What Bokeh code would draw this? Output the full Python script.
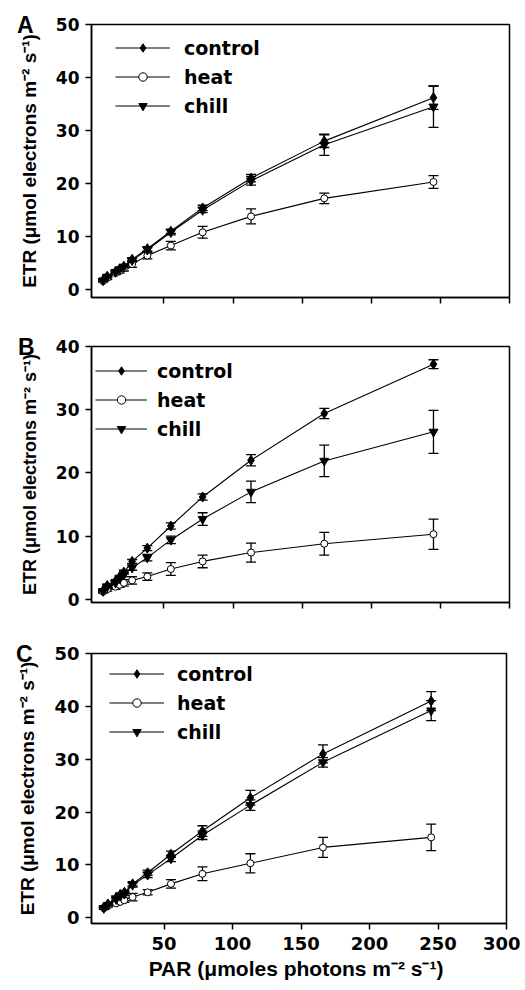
from bokeh.plotting import figure
from bokeh.models import (ColumnDataSource, Whisker, Legend, LegendItem, FixedTicker,
                          LinearAxis, Range1d, TeeHead)
from bokeh.layouts import column
from bokeh.embed import file_html
from bokeh.resources import INLINE

# ---------------- data ----------------
par = [6, 9, 15, 18, 21, 27, 38, 55, 78, 113, 166, 245]

a_control = [1.8, 2.5, 3.4, 3.9, 4.4, 5.7, 7.7, 11.0, 15.4, 21.0, 28.0, 36.2]
a_control_err = [0.2, 0.2, 0.2, 0.2, 0.3, 0.3, 0.4, 0.4, 0.5, 0.7, 1.2, 2.2]
a_heat = [1.6, 2.2, 3.1, 3.5, 4.0, 4.8, 6.4, 8.3, 10.8, 13.8, 17.2, 20.3]
a_heat_err = [0.2, 0.3, 0.3, 0.4, 0.5, 0.6, 0.6, 0.8, 1.1, 1.4, 1.0, 1.2]
a_chill = [1.7, 2.4, 3.3, 3.8, 4.3, 5.5, 7.5, 10.8, 15.0, 20.5, 27.3, 34.5]
a_chill_err = [0.2, 0.2, 0.2, 0.2, 0.3, 0.3, 0.4, 0.5, 0.5, 0.8, 2.0, 3.9]

b_control = [1.4, 2.2, 2.9, 3.6, 4.3, 6.0, 8.1, 11.6, 16.2, 22.0, 29.4, 37.2]
b_control_err = [0.2, 0.2, 0.2, 0.2, 0.3, 0.3, 0.4, 0.5, 0.5, 0.9, 0.8, 0.7]
b_heat = [1.2, 1.6, 2.0, 2.3, 2.6, 3.0, 3.6, 4.8, 6.0, 7.4, 8.8, 10.3]
b_heat_err = [0.2, 0.3, 0.4, 0.4, 0.5, 0.6, 0.6, 1.0, 1.0, 1.5, 1.8, 2.4]
b_chill = [1.3, 2.0, 2.6, 3.3, 3.9, 5.0, 6.6, 9.4, 12.7, 17.0, 21.9, 26.5]
b_chill_err = [0.2, 0.2, 0.3, 0.3, 0.3, 0.4, 0.5, 0.6, 1.0, 1.7, 2.5, 3.4]

c_control = [2.0, 2.6, 3.8, 4.4, 4.8, 6.4, 8.5, 12.0, 16.4, 22.7, 31.0, 41.0]
c_control_err = [0.2, 0.2, 0.3, 0.3, 0.3, 0.4, 0.5, 0.6, 1.0, 1.4, 1.7, 1.8]
c_heat = [1.8, 2.2, 2.7, 3.0, 3.3, 3.9, 4.8, 6.4, 8.3, 10.3, 13.3, 15.2]
c_heat_err = [0.2, 0.2, 0.3, 0.3, 0.4, 0.7, 0.5, 0.8, 1.3, 1.8, 1.9, 2.5]
c_chill = [1.8, 2.4, 3.5, 4.1, 4.5, 6.2, 8.1, 11.2, 15.6, 21.3, 29.4, 39.2]
c_chill_err = [0.2, 0.2, 0.3, 0.3, 0.3, 0.4, 0.5, 0.6, 0.8, 1.0, 0.9, 1.9]

series_names = ["control", "heat", "chill"]
panel_letters = ["A", "B", "C"]
x_ticks = [50, 100, 150, 200, 250, 300]
y_ticks_50 = [0, 10, 20, 30, 40, 50]
y_ticks_40 = [0, 10, 20, 30, 40]

Y_TITLE = "ETR (\u03bcmol electrons m\u207b\u00b2 s\u207b\u00b9)"
X_TITLE = "PAR (\u03bcmoles photons m\u207b\u00b2  s\u207b\u00b9)"

TICK_FONT = "DejaVu Sans"
TITLE_FONT = "Liberation Sans"

styles = {
    "control": dict(marker="diamond", fill="black", size=10),
    "heat": dict(marker="circle", fill="white", size=7),
    "chill": dict(marker="inverted_triangle", fill="black", size=9),
}


def make_panel(letter, data, yrange, yticks, xrange, width, height, borders,
               show_x_labels, ytick_size, ytitle_size, leg):
    bl, br, bt, bb = borders
    p = figure(width=width, height=height, output_backend="svg", toolbar_location=None,
               x_range=Range1d(*xrange), y_range=Range1d(*yrange),
               min_border_left=bl, min_border_right=br, min_border_top=bt,
               min_border_bottom=bb)
    p.grid.visible = False
    p.outline_line_color = "black"
    p.outline_line_width = 1.5
    p.background_fill_color = "white"
    p.border_fill_color = "white"

    # axes
    p.xaxis.ticker = FixedTicker(ticks=x_ticks)
    p.yaxis.ticker = FixedTicker(ticks=yticks)
    for ax in (p.xaxis[0], p.yaxis[0]):
        ax.axis_line_width = 1.5
        ax.axis_line_color = "black"
        ax.major_tick_line_width = 1.5
        ax.major_tick_in = 0
        ax.major_tick_out = 6
        ax.minor_tick_line_color = None
        ax.major_label_text_font = TICK_FONT
        ax.major_label_text_font_style = "bold"
        ax.major_label_text_color = "black"
        ax.axis_label_text_font = TITLE_FONT
        ax.axis_label_text_font_style = "bold"
        ax.axis_label_text_color = "black"
    p.yaxis.major_label_text_font_size = ytick_size
    p.yaxis.major_label_standoff = 6
    p.yaxis.axis_label = Y_TITLE
    p.yaxis.axis_label_text_font_size = ytitle_size
    p.yaxis.axis_label_standoff = 13
    if show_x_labels:
        p.xaxis.major_label_text_font_size = "18px"
        p.xaxis.major_label_standoff = 7
        p.xaxis.axis_label = X_TITLE
        p.xaxis.axis_label_text_font_size = "21px"
        p.xaxis.axis_label_standoff = 4
    else:
        p.xaxis.major_label_text_font_size = "10px"
        p.xaxis.major_label_text_color = None
        p.xaxis.major_label_standoff = 0

    # panel letter, drawn as the single label of an outer, line-less axis
    top = yrange[1]
    letter_axis = LinearAxis(ticker=FixedTicker(ticks=[top]),
                             major_label_overrides={top: letter},
                             axis_line_color=None, major_tick_line_color=None,
                             minor_tick_line_color=None, major_tick_out=0,
                             major_tick_in=0, major_label_standoff=-18,
                             major_label_text_font=TITLE_FONT,
                             major_label_text_font_size="23px",
                             major_label_text_font_style="bold",
                             major_label_text_color="black")
    p.add_layout(letter_axis, "left")

    items = []
    for name in series_names:
        vals, errs = data[name]
        st = styles[name]
        src = ColumnDataSource(dict(
            x=par, y=vals,
            upper=[v + e for v, e in zip(vals, errs)],
            lower=[v - e for v, e in zip(vals, errs)]))
        w = Whisker(source=src, base="x", upper="upper", lower="lower",
                    line_color="black", line_width=1.3,
                    upper_head=TeeHead(size=10, line_color="black", line_width=1.3),
                    lower_head=TeeHead(size=10, line_color="black", line_width=1.3))
        p.add_layout(w)
        lr = p.line("x", "y", source=src, line_color="black", line_width=1.1)
        sr = p.scatter("x", "y", source=src, marker=st["marker"], size=st["size"],
                       fill_color=st["fill"], line_color="black", line_width=1)
        items.append(LegendItem(label=name, renderers=[lr, sr]))

    frame_h = height - bt - bb
    gx, row_top, gw, standoff = leg
    row_h = 21
    spacing = 7
    leg_h = 3 * row_h + 2 * spacing
    vy = frame_h - (row_top - row_h / 2) - leg_h
    legend = Legend(items=items, location=(gx, vy), orientation="vertical",
                    glyph_width=gw, glyph_height=row_h, label_height=row_h,
                    spacing=spacing, padding=0, margin=0, label_standoff=standoff,
                    border_line_color=None, background_fill_alpha=0,
                    label_text_font=TICK_FONT, label_text_font_size="19px",
                    label_text_font_style="bold", label_text_color="black")
    p.add_layout(legend)
    return p


pA = make_panel(panel_letters[0],
                {"control": (a_control, a_control_err), "heat": (a_heat, a_heat_err),
                 "chill": (a_chill, a_chill_err)},
                (-1.5, 50), y_ticks_50, (-2.4, 300), 523, 320, (91, 5, 24, 23),
                False, "17px", "19px", (24, 26, 55, 14))
pB = make_panel(panel_letters[1],
                {"control": (b_control, b_control_err), "heat": (b_heat, b_heat_err),
                 "chill": (b_chill, b_chill_err)},
                (-0.5, 40), y_ticks_40, (-2.4, 300), 523, 310, (91, 5, 26, 28),
                False, "17px", "18px", (4, 27, 52, 10))
pC = make_panel(panel_letters[2],
                {"control": (c_control, c_control_err), "heat": (c_heat, c_heat_err),
                 "chill": (c_chill, c_chill_err)},
                (-1.1, 50), y_ticks_50, (-3.0, 300), 520, 352, (90, 14, 23, 56),
                True, "18px", "19px", (18, 26, 55, 13))

layout = column(pA, pB, pC, spacing=0)
open("out.html", "w").write(file_html(layout, INLINE))
